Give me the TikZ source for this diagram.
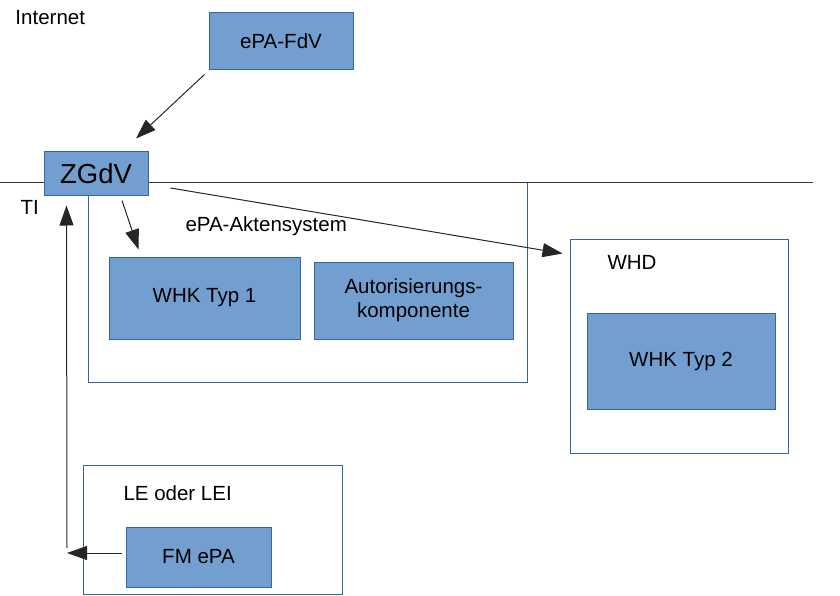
\documentclass[tikz,border=0pt]{standalone}
\usepackage{fontspec}
\setmainfont{Liberation Sans}
\usetikzlibrary{arrows.meta,calc}

\definecolor{boxfill}{HTML}{729FCF}
\definecolor{boxline}{HTML}{3465A4}

\begin{document}
\begin{tikzpicture}[x=1pt,y=-1pt,line width=1pt,
            comp node/.style={rectangle,draw=boxline,fill=boxfill,inner sep=0pt,align=center,
                font=\fontsize{20.5}{24}\selectfont},
            area node/.style={rectangle,draw=boxline,fill=white,inner sep=0pt},
            area label/.style={anchor=west,inner sep=0pt,font=\fontsize{20.5}{24}\selectfont},
            arr/.style={-{Triangle[length=20pt,width=14pt]},draw=black!85}]

        \useasboundingbox (0,0) rectangle (840,596);

        % Define areas
        \node[area node,minimum width=439,minimum height=199] (akten) at (307.5,282.5) {};
        \node[area node,minimum width=218,minimum height=214] (whd) at (679,346) {};
        \node[area node,minimum width=259,minimum height=129] (le) at (212.5,529.5) {};
        \draw[black!80] (0,183) -- (813,183);

        % Define labels
        \node[area label] (internet) at (15,18) {Internet};
        \node[area label] (ti) at (20,207) {TI};
        \node[area label] (aktenlabel) at (185,226) {ePA-Aktensystem};
        \node[area label] (whdlabel) at (607,262) {WHD};
        \node[area label] (lelabel) at (123,493) {LE oder LEI};

        % Define components
        \node[comp node,minimum width=144,minimum height=57] (fdv) at (281,41.5) {ePA-FdV};
        \node[comp node,minimum width=104,minimum height=44,font=\fontsize{27.5}{32}\selectfont] (zgdv) at (96,174) {ZGdV};
        \node[comp node,minimum width=191,minimum height=82] (whk1) at (204.5,298) {WHK Typ 1};
        \node[comp node,minimum width=199,minimum height=77] (auth) at (413.5,300.5) {Autorisierungs-\\komponente};
        \node[comp node,minimum width=188,minimum height=96] (whk2) at (681,361) {WHK Typ 2};
        \node[comp node,minimum width=145,minimum height=60] (fm) at (198.5,557) {FM ePA};
        \coordinate (bend) at (67,553);

        % Draw edges
        \draw[arr] ([shift={(-4,4)}]fdv.south west) -- ([shift={(40,-13)}]zgdv.north);
        \draw[arr] ([shift={(26,4)}]zgdv.south) -- ([shift={(30,-7)}]whk1.north west);
        \draw[arr] ([shift={(22,14)}]zgdv.east) -- ([shift={(-7,15)}]whd.north west);
        \draw[arr] ([shift={(-4,-4)}]fm.west) -- (bend);
        \draw[arr] ([yshift=5]bend) -- ([shift={(23,9)}]zgdv.south west);

\end{tikzpicture}
\end{document}
